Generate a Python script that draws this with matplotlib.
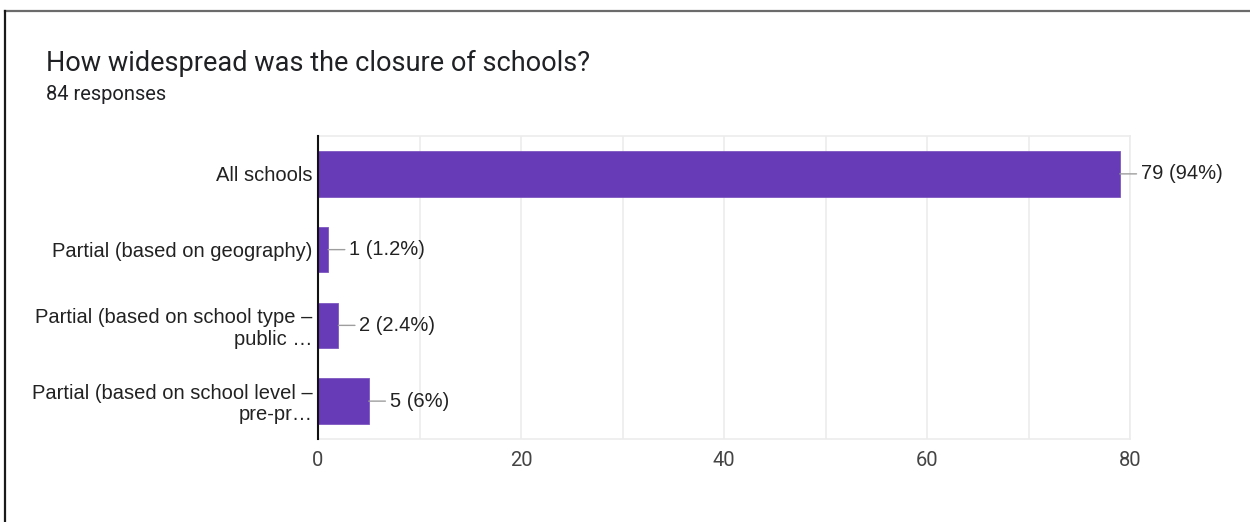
import matplotlib
matplotlib.use("Agg")
import matplotlib.pyplot as plt
from matplotlib.lines import Line2D

title = "How widespread was the closure of schools?"
subtitle = "84 responses"
categories = [
    "All schools",
    "Partial (based on geography)",
    "Partial (based on school type \u2013\npublic \u2026",
    "Partial (based on school level \u2013\npre-pr\u2026",
]
counts = [79, 1, 2, 5]
value_labels = ["79 (94%)", "1 (1.2%)", "2 (2.4%)", "5 (6%)"]
xticks = [0, 20, 40, 60, 80]

W, H = 1250, 522
fig = plt.figure(figsize=(W / 100, H / 100), dpi=100)
fig.patch.set_facecolor("white")

# outer frame (top and left edges)
fig.add_artist(Line2D([5 / W, 1], [1 - 11 / H, 1 - 11 / H], transform=fig.transFigure,
                      color="#6b6b6b", lw=1.6))
fig.add_artist(Line2D([5 / W, 5 / W], [0, 1 - 11 / H], transform=fig.transFigure,
                      color="#1a1a1a", lw=1.6))

fig.text(46 / W, 1 - 63 / H, title, fontsize=19.5, family="Roboto", color="#202124",
         va="center", ha="left")
fig.text(46 / W, 1 - 95 / H, subtitle, fontsize=14.5, family="Roboto", color="#202124",
         va="center", ha="left")

ax = fig.add_axes([318 / W, 1 - 439 / H, (1130 - 318) / W, (439 - 136) / H])
ypos = list(range(len(categories)))
ax.barh(ypos, counts, height=0.6, color="#673ab7", edgecolor="#7e57c2", linewidth=0.6,
        zorder=3)
ax.set_ylim(len(categories) - 0.5, -0.5)
ax.set_xlim(0, 80)
ax.set_xticks(xticks)
ax.set_xticks(range(0, 81, 10), minor=True)
ax.grid(axis="x", which="both", color="#ececec", lw=1.2, zorder=0)
ax.tick_params(axis="x", which="both", length=0, pad=9, labelsize=14.5,
               labelcolor="#444444")
for lab in ax.get_xticklabels():
    lab.set_family("Roboto")
ax.set_yticks(ypos)
ax.set_yticklabels(categories, fontsize=14.5, family="Liberation Sans", color="#222222",
                   multialignment="right", linespacing=1.15)
ax.tick_params(axis="y", length=0, pad=4)

for s in ["top", "bottom", "right"]:
    ax.spines[s].set_color("#ececec")
    ax.spines[s].set_linewidth(1.2)
ax.spines["left"].set_color("#111111")
ax.spines["left"].set_linewidth(1.5)
ax.spines["left"].set_zorder(4)

for y, v, lab in zip(ypos, counts, value_labels):
    ax.annotate(lab, xy=(v, y), xytext=(15, 0), textcoords="offset points",
                ha="left", va="center", fontsize=14.5, family="Liberation Sans",
                color="#222222",
                arrowprops=dict(arrowstyle="-", color="#9e9e9e", lw=1,
                                shrinkA=1, shrinkB=0))

fig.savefig("out.png", dpi=100)
